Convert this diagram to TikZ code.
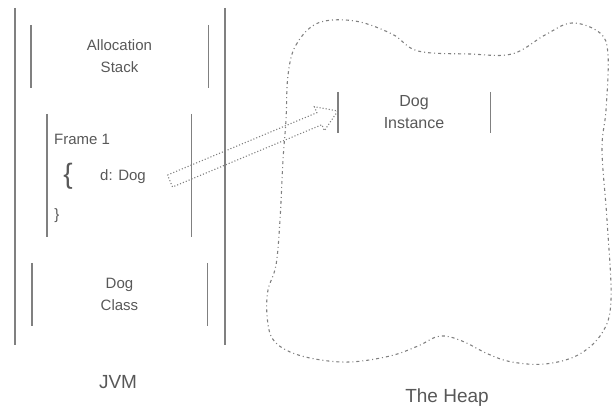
\documentclass[tikz,border=0pt]{standalone}
\usepackage{fontspec}
\setmainfont{Liberation Sans}
\usetikzlibrary{calc}
\definecolor{lc}{HTML}{808080}
\definecolor{tc}{HTML}{585858}
\begin{document}
\begin{tikzpicture}[x=1pt,y=-1pt,
  boxarea/.style={inner sep=0pt, text=tc, align=center, font=\fontsize{15}{22}\selectfont},
  side/.style={draw=lc, line width=1.4pt},
  outer/.style={draw=lc, line width=2pt},
  lbl/.style={text=tc, inner sep=0pt, font=\fontsize{15}{17}\selectfont},
  biglbl/.style={text=tc, inner sep=0pt, font=\fontsize{19}{22}\selectfont},
  heapline/.style={draw=lc, line width=1.1pt, dash pattern=on 3pt off 3pt on 1pt off 3pt},
  refarrow/.style={draw=lc, line width=1.1pt, dotted}]
\useasboundingbox (0,0) rectangle (612,411);
% JVM column
\node[minimum width=210pt, minimum height=337pt, inner sep=0pt] (jvm) at (120,176.5) {};
\draw[outer] (jvm.north west) -- (jvm.south west);
\draw[outer] (jvm.north east) -- (jvm.south east);
\node[boxarea, minimum width=177pt, minimum height=63pt] (alloc) at (119.5,56.5) {Allocation\\Stack};
\draw[side] (alloc.north west) -- (alloc.south west);
\draw[side] (alloc.north east) -- (alloc.south east);
\node[minimum width=144pt, minimum height=123pt, inner sep=0pt] (frame) at (119,175.5) {};
\draw[side] (frame.north west) -- (frame.south west);
\draw[side] (frame.north east) -- (frame.south east);
\node[lbl, anchor=west] (fname) at (54,139) {Frame 1};
\node[text=tc, inner sep=0pt, font=\fontsize{28}{30}\selectfont] (obr) at (68,176) {\{};
\node[lbl, anchor=west] (dref) at (100,177) {d: Dog};
\node[lbl] (cbr) at (57,216) {\}};
\node[boxarea, minimum width=175pt, minimum height=63pt] (dogclass) at (119.5,294.5) {Dog\\Class};
\draw[side] (dogclass.north west) -- (dogclass.south west);
\draw[side] (dogclass.north east) -- (dogclass.south east);
\node[biglbl] (jvmlbl) at (118,382) {JVM};
% Heap
\draw[heapline] plot[smooth cycle, tension=0.6] coordinates {
 (288,75) (296,45) (318,23) (355,21) (392,34) (418,51) (470,54) (512,54) (545,35) (572,23)
 (600,33) (608,55) (606,110) (602,150) (607,220) (611,300) (602,333) (578,355) (545,364)
 (512,362) (488,354) (462,341) (440,336) (418,346) (390,356) (350,362) (315,359) (288,351)
 (272,338) (267,315) (268,290) (276,265) (280,220) (283,160) (286,120)};
\node[boxarea, font=\fontsize{16}{22}\selectfont, minimum width=152pt, minimum height=41pt] (inst) at (414,112.5) {Dog\\Instance};
\draw[side] (inst.north west) -- (inst.south west);
\draw[side] (inst.north east) -- (inst.south east);
\node[biglbl] (heaplbl) at (447,398) {The Heap};
% reference arrow
\coordinate (tail) at (170,181);
\coordinate (tip) at ($(inst.west)+(0,-1.5)$);
\coordinate (base) at ($(tip)!20pt!(tail)$);
\draw[refarrow] ($(tail)!6.5pt!90:(tip)$) -- ($(base)!6.5pt!90:(tip)$) -- ($(base)!13pt!90:(tip)$)
  -- (tip) -- ($(base)!13pt!-90:(tip)$) -- ($(base)!6.5pt!-90:(tip)$) -- ($(tail)!6.5pt!-90:(tip)$) -- cycle;
\end{tikzpicture}
\end{document}
